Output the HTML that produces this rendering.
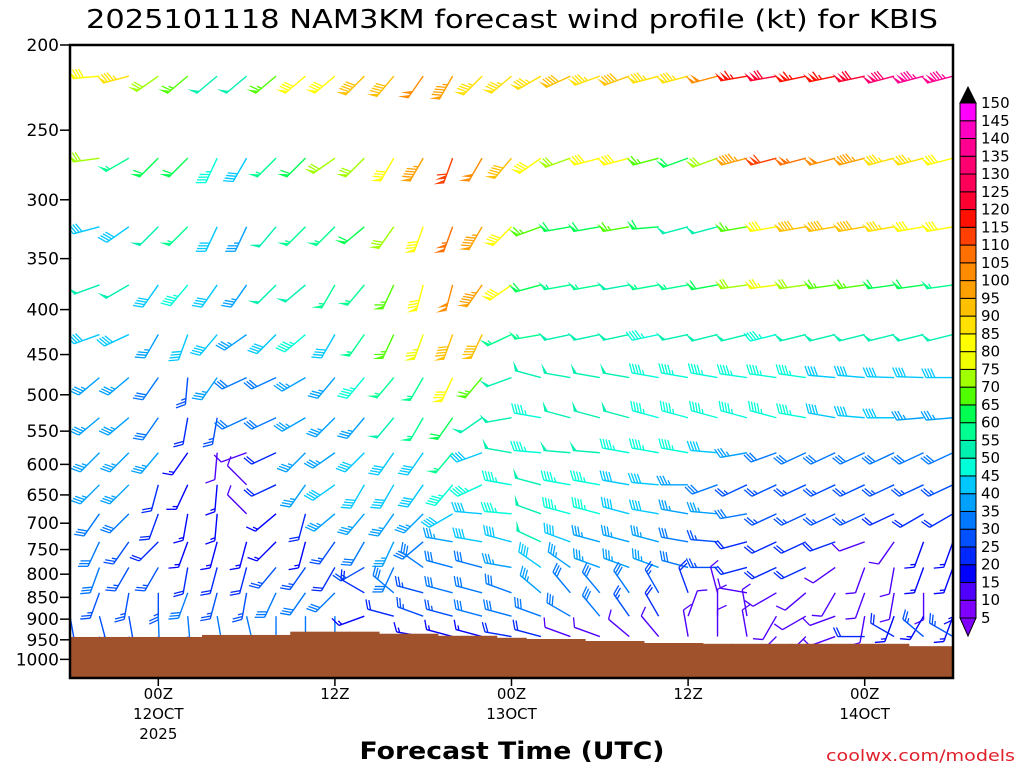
<!DOCTYPE html>
<html><head><meta charset="utf-8"><style>
html,body{margin:0;padding:0;background:#fff;}
svg{display:block;font-family:"DejaVu Sans","Liberation Sans",sans-serif;}
</style></head><body>
<svg id="chart" width="1024" height="768" viewBox="0 0 1024 768">
<text x="512" y="28" text-anchor="middle" font-size="26" textLength="852" lengthAdjust="spacingAndGlyphs">2025101118 NAM3KM forecast wind profile (kt) for KBIS</text>
<defs><clipPath id="plotclip"><rect x="70" y="45" width="883" height="633"/></clipPath></defs>
<g id="barbs" clip-path="url(#plotclip)"></g>
<g id="ground" clip-path="url(#plotclip)"></g>
<rect x="70" y="45" width="883" height="633" fill="none" stroke="#000" stroke-width="2.5"/>
<g id="yaxis"></g>
<g id="xaxis"></g>
<g id="cbar"></g>
<text x="512" y="759" text-anchor="middle" font-size="24" font-weight="bold" textLength="305" lengthAdjust="spacingAndGlyphs">Forecast Time (UTC)</text>
<text x="1015" y="761" text-anchor="end" font-size="16" fill="#e0202a" textLength="189" lengthAdjust="spacingAndGlyphs">coolwx.com/models</text>
</svg>
<script>
const levels = [217,269,322,375,427,478,531,582,633,683,735,786,840,893,942];
const fhours = [0,2,4,6,8,10,12,14,16,18,20,22,24,26,28,30,32,34,36,38,40,42,44,46,48,50,52,54,56,58,60];
const surfP = [943,943,943,943,943,938,938,938,930,930,930,935,935,940,940,945,948,948,953,953,958,958,960,960,960,960,960,960,960,966,966];
const yTicks = [200,250,300,350,400,450,500,550,600,650,700,750,800,850,900,950,1000];
const xTickHours = [6,18,30,42,54];
const xTickLine1 = ["00Z","12Z","00Z","12Z","00Z"];
const xTickLine2 = ["12OCT","","13OCT","","14OCT"];
const xTickLine3 = ["2025","","","",""];
const cbLevels = [5,10,15,20,25,30,35,40,45,50,55,60,65,70,75,80,85,90,95,100,105,110,115,120,125,130,135,140,145,150];
const cbColors = ["#8000ff","#5000ff","#0000ff","#0028ff","#0050ff","#0078ff","#00a0ff","#00c8ff","#00ffd8","#00f0b0","#00ff90","#00ff50","#50ff00","#a0ff00","#f0ff00","#ffff00","#ffe000","#ffc000","#ffa000","#ff8c00","#ff7000","#ff4000","#ff1000","#ff0030","#ff0058","#ff0070","#ff0090","#ff00c0","#ff00ff"];

const spd0=[80,80,85,70,65,50,50,65,80,80,90,90,100,95,85,85,85,90,85,90,85,85,100,115,120,115,115,120,130,135,135];
const dir0=[265,265,255,235,230,230,230,230,230,230,225,220,215,210,225,230,240,245,250,250,255,255,255,260,260,258,258,258,255,255,255];
const spd1=[70,70,55,60,60,45,40,55,60,70,70,80,95,110,100,90,80,70,80,80,65,60,70,95,110,105,100,95,85,85,80];
const dir1=[262,262,240,225,225,205,210,225,225,235,225,210,210,200,210,220,235,250,255,255,255,250,250,255,255,255,255,255,255,255,255];
const spd2=[40,40,40,50,55,40,35,50,55,55,60,70,80,105,95,80,65,60,60,65,60,50,50,65,80,90,90,90,85,80,80];
const dir2=[255,255,235,225,225,205,205,220,225,225,230,215,200,200,210,225,250,260,260,260,265,255,255,260,260,260,260,260,260,260,260];
const spd3=[50,50,50,40,45,40,35,50,50,55,55,65,80,100,95,80,60,55,55,50,55,55,60,70,75,70,65,65,60,60,55];
const dir3=[250,250,240,215,220,215,215,225,230,210,220,205,195,195,215,235,255,260,260,260,260,260,260,262,262,262,262,262,262,262,262];
const spd4=[40,40,40,35,40,40,35,40,45,40,55,65,75,90,90,55,55,50,50,50,45,50,50,50,45,50,50,50,50,50,50];
const dir4=[250,250,245,210,200,220,235,225,230,210,215,205,200,200,205,245,260,258,258,258,258,258,256,256,256,256,256,256,256,256,256];
const spd5=[35,35,35,30,25,35,30,30,35,35,45,55,55,80,65,50,50,50,50,50,45,45,45,45,45,45,40,40,40,40,40];
const dir5=[230,230,230,215,185,215,245,245,240,220,220,220,210,205,220,250,285,280,280,280,280,280,280,278,278,278,275,275,272,272,270];
const spd6=[35,35,35,30,20,25,30,30,35,35,35,50,55,60,50,50,45,50,50,50,45,45,45,45,45,45,40,40,40,35,35];
const dir6=[230,230,230,215,190,190,245,245,240,225,220,220,210,215,235,260,280,285,285,285,285,285,285,285,285,280,280,275,270,265,265];
const spd7=[35,35,35,35,15,10,10,20,35,35,40,40,40,55,40,50,45,50,50,45,45,45,40,35,30,30,30,30,30,30,30];
const dir7=[225,225,225,220,215,185,250,245,225,235,225,215,215,220,250,280,275,275,275,280,280,280,275,260,250,245,245,245,245,245,245];
const spd8=[35,35,35,20,15,15,10,20,35,40,40,40,40,45,45,45,50,45,45,40,40,35,30,25,25,25,25,25,25,25,25];
const dir8=[225,225,225,195,205,185,315,245,215,235,210,210,215,220,245,280,285,280,280,280,275,270,250,245,245,245,245,245,245,245,245];
const spd9=[30,30,30,20,15,15,10,15,20,35,35,35,35,40,40,45,50,45,45,40,40,35,35,30,25,25,25,25,20,20,20];
const dir9=[215,215,225,200,190,185,315,230,195,230,220,215,225,240,275,275,290,285,285,285,280,280,275,260,245,245,245,245,245,240,240];
const spd10=[30,30,25,20,15,15,15,15,15,25,30,35,30,35,40,40,50,40,35,35,35,30,25,20,20,20,20,10,10,15,15];
const dir10=[205,205,215,225,200,195,195,225,195,215,210,205,230,280,280,285,295,290,285,285,285,280,275,255,245,245,250,250,215,200,200];
const spd11=[30,30,25,25,20,20,20,25,25,20,25,30,30,30,30,35,40,35,35,35,35,30,25,20,20,20,10,10,10,15,15];
const dir11=[200,200,210,210,190,195,195,220,215,210,240,205,305,285,285,280,305,305,290,290,290,285,270,255,245,245,235,200,190,200,200];
const spd12=[30,25,25,25,30,25,25,30,30,30,20,30,25,30,30,30,35,30,30,30,25,20,10,10,10,10,10,10,10,10,15];
const dir12=[200,200,190,180,200,195,190,205,215,225,300,310,285,285,285,290,310,320,320,325,330,340,345,280,240,230,210,200,190,180,180];
const spd13=[25,25,25,30,30,30,30,30,30,30,15,20,25,25,30,30,30,30,30,25,20,10,10,10,10,10,10,10,15,15,15];
const dir13=[170,165,170,178,175,170,167,180,180,180,250,285,290,285,285,285,290,300,320,325,330,20,0,350,210,240,250,190,200,210,200];
const spd14=[25,25,25,25,25,25,25,25,25,25,15,15,15,15,15,20,20,10,10,10,10,10,10,10,10,10,10,20,20,25,25];
const dir14=[170,170,170,175,175,170,170,175,175,175,250,260,280,285,285,280,285,290,290,310,320,350,0,350,225,225,250,270,300,310,300];

const spdRows=[spd0,spd1,spd2,spd3,spd4,spd5,spd6,spd7,spd8,spd9,spd10,spd11,spd12,spd13,spd14];
const dirRows=[dir0,dir1,dir2,dir3,dir4,dir5,dir6,dir7,dir8,dir9,dir10,dir11,dir12,dir13,dir14];

const NS="http://www.w3.org/2000/svg";
const X0=70,X1=953,Y0=45,Y1=678,P0=200,P1=1050;
function xScale(h){return X0+(h/60)*(X1-X0);}
function yScale(p){return Y0+Math.log(p/P0)/Math.log(P1/P0)*(Y1-Y0);}
function colorFor(s){let i=Math.floor((s-5)/5);if(i<0)i=0;if(i>cbColors.length-1)return "#000";return cbColors[i];}
function mk(tag,attrs,parent){const e=document.createElementNS(NS,tag);for(const k in attrs)e.setAttribute(k,attrs[k]);parent.appendChild(e);return e;}

const barbG=document.getElementById('barbs');
function drawBarb(sx,sy,dirDeg,spd){
  const g=document.createElementNS(NS,'g');
  
  
  barbG.appendChild(g);
  const col=colorFor(spd);
  const th=dirDeg*Math.PI/180;
  const dx=Math.sin(th),dy=-Math.cos(th);
  const a=65*Math.PI/180;
  const bx=dx*Math.cos(a)-dy*Math.sin(a), by=dx*Math.sin(a)+dy*Math.cos(a);
  const L=27;
  const tx=sx+dx*L,ty=sy+dy*L;
  mk('line',{x1:sx,y1:sy,x2:tx,y2:ty,stroke:col,'stroke-width':1.4},g);
  let s=Math.round(spd/5)*5;
  let pos=0;
  while(s>=50){
    const px=tx-dx*pos,py=ty-dy*pos;
    const qx=tx-dx*(pos+4),qy=ty-dy*(pos+4);
    mk('polygon',{points:`${px},${py} ${px+bx*10},${py+by*10} ${qx},${qy}`,fill:col},g);
    pos+=5;s-=50;
  }
  while(s>=10){
    const px=tx-dx*pos,py=ty-dy*pos;
    mk('line',{x1:px,y1:py,x2:px+bx*10,y2:py+by*10,stroke:col,'stroke-width':1.3},g);
    pos+=3;s-=10;
  }
  if(s>=5){
    if(pos===0)pos=3;
    const px=tx-dx*pos,py=ty-dy*pos;
    mk('line',{x1:px,y1:py,x2:px+bx*5,y2:py+by*5,stroke:col,'stroke-width':1.3},g);
  }
}
for(let li=0;li<levels.length;li++){
  for(let ci=0;ci<fhours.length;ci++){
    drawBarb(xScale(fhours[ci]),yScale(levels[li]),dirRows[li][ci],spdRows[li][ci]);
  }
}
const gG=document.getElementById('ground');
const halfW=(xScale(2)-xScale(0))/2;
for(let ci=0;ci<fhours.length;ci++){
  const x=xScale(fhours[ci]);
  const y=yScale(surfP[ci]);
  const r=mk('rect',{x:x-halfW-0.5,y:y,width:2*halfW+1,height:Y1-y,fill:'#a0522d'},gG);
  
  
}
const yA=document.getElementById('yaxis');
yTicks.forEach(p=>{
  const y=yScale(p);
  const l=mk('line',{x1:60,y1:y,x2:70,y2:y,stroke:'#000','stroke-width':1.5},yA);
  
  
  const t=mk('text',{x:59,y:y+6,'text-anchor':'end','font-size':17},yA);
  t.textContent=p;
  
  
});
const xA=document.getElementById('xaxis');
xTickHours.forEach((h,i)=>{
  const x=xScale(h);
  const l=mk('line',{x1:x,y1:678,x2:x,y2:686,stroke:'#000','stroke-width':1.5},xA);
  
  
  [xTickLine1[i],xTickLine2[i],xTickLine3[i]].forEach((s,j)=>{
    if(!s)return;
    const t=mk('text',{x:x,y:699+j*20,'text-anchor':'middle','font-size':15},xA);
    t.textContent=s;
    
    
  });
});
const cb=document.getElementById('cbar');
const cbBottom=618,cbH=(618-103)/29;
cbColors.forEach((c,i)=>{
  const y=cbBottom-(i+1)*cbH;
  const r=mk('rect',{x:960,y:y,width:16,height:cbH,fill:c,stroke:'#000','stroke-width':1},cb);
  
  
});
const tt=mk('polygon',{points:`960,103 976,103 968,87`,fill:'#000',stroke:'#000'},cb);


const tb=mk('polygon',{points:`960,618 976,618 968,636`,fill:'#8000ff',stroke:'#000'},cb);


cbLevels.forEach((v,i)=>{
  const y=cbBottom-i*cbH;
  const t=mk('text',{x:981,y:y+5,'font-size':15},cb);
  t.textContent=v;
  
  
});
</script>
</body></html>
